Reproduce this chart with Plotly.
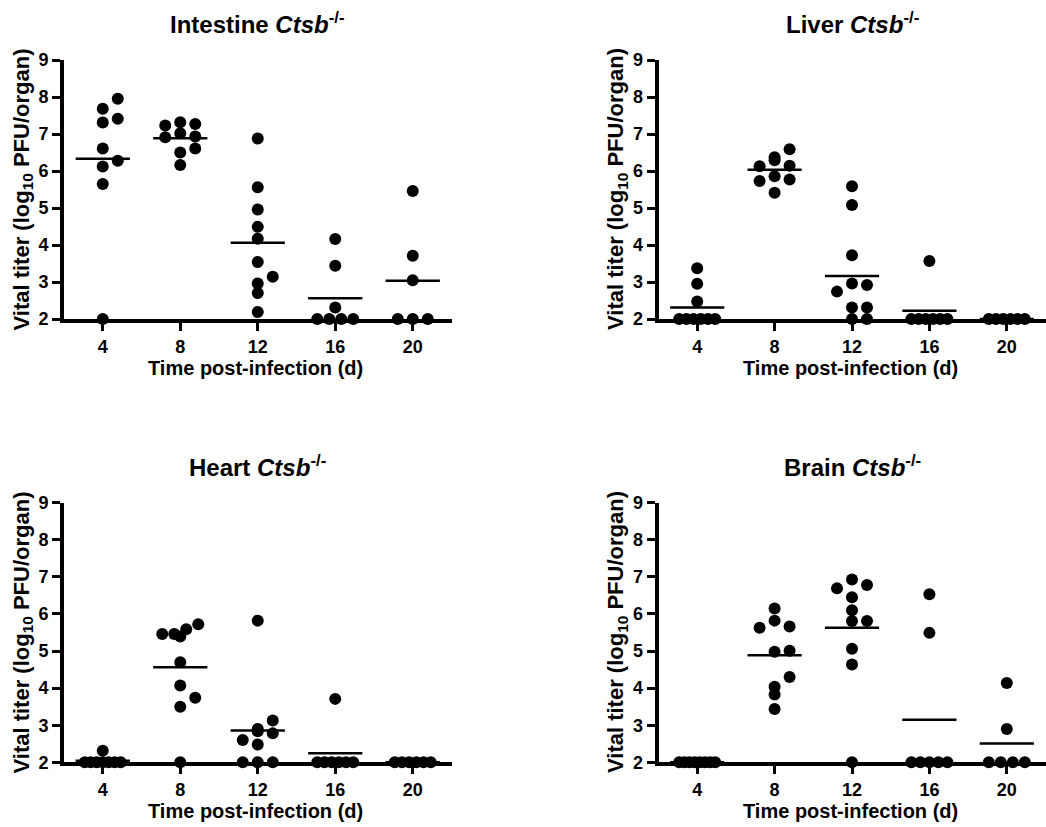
import plotly.graph_objects as go

# ---------------- data ----------------
days = [4, 8, 12, 16, 20]

intestine = [
    [7.95, 7.68, 7.41, 7.31, 6.61, 6.28, 6.12, 5.65, 2.0],
    [7.32, 7.27, 7.23, 7.02, 6.93, 6.91, 6.61, 6.50, 6.16],
    [6.88, 5.56, 4.96, 4.49, 4.17, 3.54, 3.14, 2.96, 2.70, 2.19],
    [4.16, 3.44, 2.31, 2.0, 2.0, 2.0, 2.0],
    [5.46, 3.71, 3.05, 2.0, 2.0, 2.0],
]
liver = [
    [3.37, 2.95, 2.47, 2.0, 2.0, 2.0, 2.0, 2.0, 2.0],
    [6.59, 6.37, 6.29, 6.14, 6.13, 5.86, 5.77, 5.73, 5.41],
    [5.59, 5.08, 3.72, 2.96, 2.92, 2.74, 2.31, 2.31, 2.0, 2.0],
    [3.57, 2.0, 2.0, 2.0, 2.0, 2.0, 2.0],
    [2.0, 2.0, 2.0, 2.0, 2.0, 2.0],
]
heart = [
    [2.31, 2.0, 2.0, 2.0, 2.0, 2.0, 2.0, 2.0],
    [5.72, 5.59, 5.46, 5.46, 5.39, 4.70, 4.07, 3.74, 3.50, 2.0],
    [5.82, 3.13, 2.90, 2.84, 2.78, 2.60, 2.48, 2.0, 2.0, 2.0],
    [3.71, 2.0, 2.0, 2.0, 2.0, 2.0, 2.0],
    [2.0, 2.0, 2.0, 2.0, 2.0, 2.0],
]
brain = [
    [2.0, 2.0, 2.0, 2.0, 2.0, 2.0, 2.0, 2.0],
    [6.15, 5.82, 5.66, 5.63, 5.01, 4.98, 4.30, 4.04, 3.83, 3.44],
    [6.93, 6.78, 6.69, 6.45, 6.10, 5.81, 5.81, 5.06, 4.64, 2.0],
    [6.53, 5.49, 2.0, 2.0, 2.0, 2.0, 2.0],
    [4.14, 2.90, 2.0, 2.0, 2.0, 2.0],
]

organs = ["Intestine", "Liver", "Heart", "Brain"]
organ_data = [intestine, liver, heart, brain]
y_ticks = [2, 3, 4, 5, 6, 7, 8, 9]
y_title = "Vital titer (log<sub>10</sub> PFU/organ)"
x_title = "Time post-infection (d)"

# ---------------- layout geometry (pixels) ----------------
W, H = 1046, 827
X_SPANS = [(64, 451.5), (658.5, 1045.5), (64, 451.5), (658.5, 1045.5)]
Y_SPANS = [(60, 319), (60, 319), (502.7, 762.3), (502.7, 762.3)]
X_RANGE = [-0.5, 4.5]
Y_RANGE = [2, 9]

FONT = "Liberation Sans, Arial, Helvetica, sans-serif"
DOT = 12
STEP = 15.0
MAXW = 36.0
ROW_PX = 10.0
HALF_LINE = 0.35
AXIS_LW = 4
TICK_W = 3


def swarm_offsets(vals, px_per_y):
    """Prism-like scatter: points in the same row spread sideways (in px)."""
    order = sorted(range(len(vals)), key=lambda i: -vals[i])
    rows = []
    for i in order:
        if rows and (vals[rows[-1][0]] - vals[i]) * px_per_y <= ROW_PX:
            rows[-1].append(i)
        else:
            rows.append([i])
    off = [0.0] * len(vals)
    for row in rows:
        row = sorted(row, key=lambda i: vals[i])
        k = len(row)
        if k == 1:
            pos = [0.0]
        elif k == 2:
            pos = [0.0, STEP]
        elif k == 3:
            pos = [-STEP, STEP, 0.0]
        else:
            s = min(STEP, MAXW / (k - 1))
            pos = [(j - (k - 1) / 2) * s for j in range(k)]
        for i, p in zip(row, pos):
            off[i] = p
    return off


fig = go.Figure()
annotations = []

for n, (name, data) in enumerate(zip(organs, organ_data), start=1):
    x0, x1 = X_SPANS[n - 1]
    y0, y1 = Y_SPANS[n - 1]
    px_x = (x1 - x0) / (X_RANGE[1] - X_RANGE[0])
    px_y = (y1 - y0) / (Y_RANGE[1] - Y_RANGE[0])

    xs, ys, lx, ly = [], [], [], []
    for gi, vals in enumerate(data):
        offs = swarm_offsets(vals, px_y)
        for v, o in zip(vals, offs):
            xs.append(gi + o / px_x)
            ys.append(v)
        m = sum(vals) / len(vals)
        lx += [gi - HALF_LINE, gi + HALF_LINE, None]
        ly += [m, m, None]

    suffix = "" if n == 1 else str(n)
    xa, ya = "x" + suffix, "y" + suffix
    fig.add_trace(go.Scatter(
        x=lx, y=ly, mode="lines", xaxis=xa, yaxis=ya,
        line=dict(color="black", width=2.5), showlegend=False,
        hoverinfo="skip", cliponaxis=False))
    fig.add_trace(go.Scatter(
        x=xs, y=ys, mode="markers", xaxis=xa, yaxis=ya,
        marker=dict(color="black", size=DOT, line=dict(width=0)),
        showlegend=False, cliponaxis=False, name=name))

    axis_font = dict(family=FONT, size=18, color="black")
    fig.update_layout({
        "xaxis" + suffix: go.layout.XAxis(
            domain=[x0 / W, x1 / W], range=X_RANGE, anchor=ya,
            tickmode="array", tickvals=list(range(len(days))),
            ticktext=[f"<b>{d}</b>" for d in days],
            showline=True, linewidth=AXIS_LW, linecolor="black",
            ticks="outside", ticklen=8, tickwidth=TICK_W, tickcolor="black",
            showgrid=False, zeroline=False, tickfont=axis_font, fixedrange=True),
        "yaxis" + suffix: go.layout.YAxis(
            domain=[1 - y1 / H, 1 - y0 / H], range=Y_RANGE, anchor=xa,
            tickmode="array", tickvals=y_ticks,
            ticktext=[f"<b>{t}</b>" for t in y_ticks],
            showline=True, linewidth=AXIS_LW, linecolor="black",
            ticks="outside", ticklen=8, tickwidth=TICK_W, tickcolor="black",
            showgrid=False, zeroline=False, tickfont=axis_font, fixedrange=True),
    })

    cx = (x0 + x1) / 2
    annotations.append(dict(
        text=f"<b>{name} <i>Ctsb</i><sup>-/-</sup></b>", x=cx / W, y=1 - (y0 - 37) / H,
        xref="paper", yref="paper", xanchor="center", yanchor="middle",
        showarrow=False, font=dict(family=FONT, size=24, color="black")))
    annotations.append(dict(
        text=f"<b>{x_title}</b>", x=(cx - 2) / W, y=1 - (y1 + 49) / H,
        xref="paper", yref="paper", xanchor="center", yanchor="middle",
        showarrow=False, font=dict(family=FONT, size=20, color="black")))
    annotations.append(dict(
        text=f"<b>{y_title}</b>", x=(x0 - 42) / W, y=1 - ((y0 + y1) / 2) / H,
        xref="paper", yref="paper", xanchor="center", yanchor="middle",
        textangle=-90, showarrow=False,
        font=dict(family=FONT, size=22, color="black")))

fig.update_layout(
    width=W, height=H, margin=dict(l=0, r=0, t=0, b=0, autoexpand=False),
    paper_bgcolor="white", plot_bgcolor="white",
    font=dict(family=FONT, color="black"),
    annotations=annotations, showlegend=False)

fig.write_html("out.html", config={"displayModeBar": False},
               post_script="document.body.style.margin='0';")
